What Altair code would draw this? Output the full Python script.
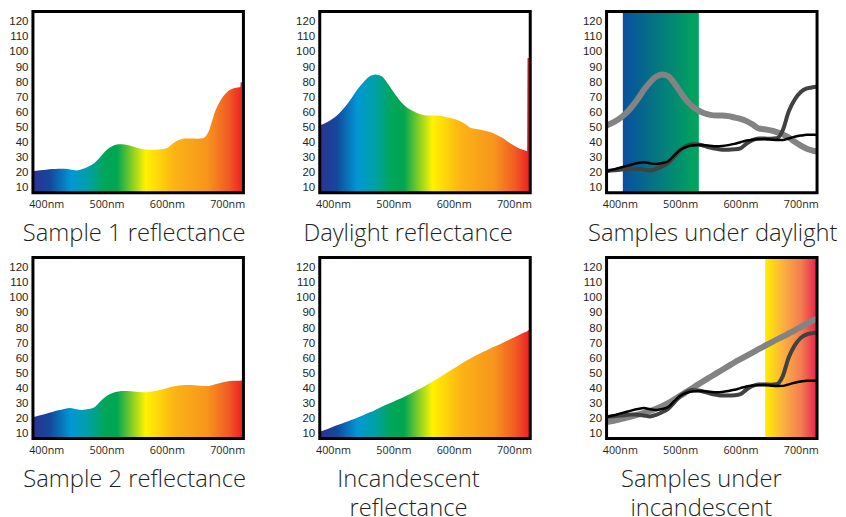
import altair as alt
import pandas as pd

# ---------------- data ----------------
WAVELENGTHS = [378, 390, 400, 410, 420, 430, 440, 450, 460, 470, 480, 490, 500,
               510, 520, 530, 540, 550, 560, 570, 580, 590, 600, 610, 620, 630,
               640, 650, 660, 670, 680, 690, 700, 710, 720, 722]

SAMPLE1 = [21, 21.6, 22, 22.4, 22.7, 22.6, 22.1, 21.5, 22.5, 24.2, 26.5, 30.6, 35,
           37.7, 38.9, 38.7, 37.8, 36.6, 35.8, 35.3, 35.3, 35.5, 36.2, 39.3, 41.6,
           42.6, 42.6, 42.5, 42.8, 48, 60.5, 68.5, 73.5, 75.8, 76.6, 76.8]

SAMPLE2 = [21, 22.2, 23.3, 24.4, 25.5, 26.4, 27, 26.2, 25.8, 26.4, 27.6, 31.5, 35,
           37, 38, 38.3, 38.2, 37.8, 37.5, 37.7, 38.3, 39.1, 40.2, 41.3, 41.9,
           42.2, 42.3, 42, 41.6, 41.7, 42.7, 43.8, 44.6, 45.1, 45.1, 45.1]

DAYLIGHT = [51.3, 53.5, 56, 59.3, 63.7, 69, 75, 79.8, 83.5, 85, 84, 79.5, 73.7,
            68.2, 64, 61.3, 59.4, 58.3, 57.9, 57.9, 57.5, 56.6, 55.7, 54.2, 52,
            49.4, 48.8, 48, 46.9, 45.4, 43.3, 40.5, 38, 35.9, 34.6, 34.4]

INCANDESCENT = [11.5, 13, 14.6, 16.1, 17.6, 19.1, 20.6, 22.3, 24, 25.8, 27.7, 29.5,
                31.2, 33, 34.8, 36.9, 38.9, 41.1, 43.4, 45.8, 48.3, 50.8, 53.2,
                55.7, 58.1, 60.3, 62.4, 64.4, 66.3, 68.1, 70, 71.9, 73.7, 75.7,
                77.5, 77.9]

INCANDESCENT_LINE = [17.7, 18.6, 19.6, 20.6, 21.6, 22.7, 23.8, 25.1, 26.6, 28.3,
                     30.3, 32.6, 35.1, 37.6, 40.1, 42.7, 45.2, 47.6, 50.0, 52.4,
                     54.8, 57.2, 59.4, 61.6, 63.8, 66.0, 68.1, 70.2, 72.3, 74.3,
                     76.4, 78.5, 80.7, 82.9, 85.0, 85.5]

# right-hand edge of each reflectance area (the thin sliver at the frame)
EDGE_WAVELENGTHS = [722.5, 727]
SAMPLE1_EDGE = [80, 80]
SAMPLE2_EDGE = [45.2, 45.2]
DAYLIGHT_EDGE = [96, 96]
INCANDESCENT_EDGE = [78.2, 78.8]
LINE_END_WAVELENGTH = 727
SAMPLE1_END = 77
SAMPLE2_END = 45
INCANDESCENT_LINE_END = 86.3
DAYLIGHT_END = 34.2

DAYLIGHT_BAND = [405, 531]
INCANDESCENT_BAND = [641, 727]

X_TICKS = [400, 500, 600, 700]
Y_TICKS = [10, 20, 30, 40, 50, 60, 70, 80, 90, 100, 110, 120]
X_DOMAIN = [378, 727]
Y_DOMAIN = [6.8, 126.7]

TITLE_1 = "Sample 1 reflectance"
TITLE_2 = "Daylight reflectance"
TITLE_3 = "Samples under daylight"
TITLE_4 = "Sample 2 reflectance"
TITLE_5 = ["Incandescent", "reflectance"]
TITLE_6 = ["Samples under", "incandescent"]

# ---------------- styling ----------------
W, H = 211, 181.5
TEXT = "#231f20"

SPECTRUM = alt.Gradient(
    gradient="linear", x1=0, x2=1, y1=0, y2=0,
    stops=[
        alt.GradientStop(offset=0.00, color="#2e3192"),
        alt.GradientStop(offset=0.08, color="#14489b"),
        alt.GradientStop(offset=0.18, color="#0098d4"),
        alt.GradientStop(offset=0.26, color="#00a0a8"),
        alt.GradientStop(offset=0.34, color="#00a65a"),
        alt.GradientStop(offset=0.40, color="#00a651"),
        alt.GradientStop(offset=0.535, color="#fff200"),
        alt.GradientStop(offset=0.67, color="#fcb415"),
        alt.GradientStop(offset=0.83, color="#f7941d"),
        alt.GradientStop(offset=0.93, color="#f15a24"),
        alt.GradientStop(offset=1.00, color="#ed1c24"),
    ],
)
DAY_BAND_FILL = alt.Gradient(
    gradient="linear", x1=0, x2=1, y1=0, y2=0,
    stops=[alt.GradientStop(offset=0, color="#08509f"),
           alt.GradientStop(offset=1, color="#00a75b")],
)
INC_BAND_FILL = alt.Gradient(
    gradient="linear", x1=0, x2=1, y1=0, y2=0,
    stops=[alt.GradientStop(offset=0, color="#ffee00"),
           alt.GradientStop(offset=0.35, color="#fbb040"),
           alt.GradientStop(offset=0.7, color="#f37b50"),
           alt.GradientStop(offset=1, color="#e8204c")],
)

x_scale = alt.Scale(domain=X_DOMAIN, nice=False, zero=False)
y_scale = alt.Scale(domain=Y_DOMAIN, nice=False, zero=False)
x_axis = alt.Axis(values=X_TICKS, labelExpr="datum.value + 'nm'", title=None,
                  ticks=False, domain=False, grid=False, labelFont="Open Sans",
                  labelFontSize=10.8, labelColor=TEXT, labelPadding=6)
y_axis = alt.Axis(values=Y_TICKS, title=None, ticks=False, domain=False,
                  grid=False, labelFont="Liberation Sans", labelFontSize=11.5,
                  labelColor=TEXT, labelPadding=5)


def curve_df(values, extra_wl, extra_vals):
    return pd.DataFrame({"wl": list(WAVELENGTHS) + list(extra_wl),
                         "v": list(values) + list(extra_vals)})


def area_layer(values, edge):
    return alt.Chart(curve_df(values, EDGE_WAVELENGTHS, edge)).mark_area(
        fill=SPECTRUM, clip=True, interpolate="monotone"
    ).encode(
        x=alt.X("wl:Q", scale=x_scale, axis=x_axis),
        y=alt.Y("v:Q", scale=y_scale, axis=y_axis),
    )


def line_layer(values, end, color, width):
    return alt.Chart(curve_df(values, [LINE_END_WAVELENGTH], [end])).mark_line(
        color=color, strokeWidth=width, clip=True, interpolate="monotone"
    ).encode(
        x=alt.X("wl:Q", scale=x_scale, axis=x_axis),
        y=alt.Y("v:Q", scale=y_scale, axis=y_axis),
    )


def band_layer(band, fill):
    return alt.Chart(pd.DataFrame({"a": [band[0]], "b": [band[1]]})).mark_rect(
        fill=fill, clip=True
    ).encode(
        x=alt.X("a:Q", scale=x_scale, axis=x_axis),
        x2="b:Q",
        y=alt.value(0),
        y2=alt.value(H),
    )


def frame_layer():
    return alt.Chart(pd.DataFrame({"k": [0]})).mark_rect(
        fillOpacity=0, stroke="#000000", strokeWidth=3
    ).encode(x=alt.value(0), x2=alt.value(W), y=alt.value(0), y2=alt.value(H))


def panel(layers, text, dx):
    return alt.layer(*layers, frame_layer()).properties(
        width=W, height=H,
        title=alt.TitleParams(
            text=text, orient="bottom", anchor="middle", frame="group",
            font="Open Sans", fontSize=23.8, fontWeight=300, color=TEXT,
            offset=13, dx=dx, lineHeight=29,
        ),
    )


p1 = panel([area_layer(SAMPLE1, SAMPLE1_EDGE)], TITLE_1, -4)
p2 = panel([area_layer(DAYLIGHT, DAYLIGHT_EDGE)], TITLE_2, -17)
p3 = panel([band_layer(DAYLIGHT_BAND, DAY_BAND_FILL),
            line_layer(DAYLIGHT, DAYLIGHT_END, "#838383", 6),
            line_layer(SAMPLE1, SAMPLE1_END, "#414141", 4),
            line_layer(SAMPLE2, SAMPLE2_END, "#000000", 2.5)], TITLE_3, 1)
p4 = panel([area_layer(SAMPLE2, SAMPLE2_EDGE)], TITLE_4, -3.5)
p5 = panel([area_layer(INCANDESCENT, INCANDESCENT_EDGE)], TITLE_5, -16.5)
p6 = panel([band_layer(INCANDESCENT_BAND, INC_BAND_FILL),
            line_layer(INCANDESCENT_LINE, INCANDESCENT_LINE_END, "#838383", 6),
            line_layer(SAMPLE1, SAMPLE1_END, "#414141", 4),
            line_layer(SAMPLE2, SAMPLE2_END, "#000000", 2.5)], TITLE_6, -10.5)

chart = alt.concat(
    p1, p2, p3, p4, p5, p6, columns=3,
    spacing={"row": 64.5, "column": 76.5}, bounds="flush",
).configure_view(stroke=None).properties(
    padding={"left": 0, "top": 1, "right": 0, "bottom": 0},
    background="white",
)

chart.save("out.html", embed_options={"renderer": "svg", "actions": False})
